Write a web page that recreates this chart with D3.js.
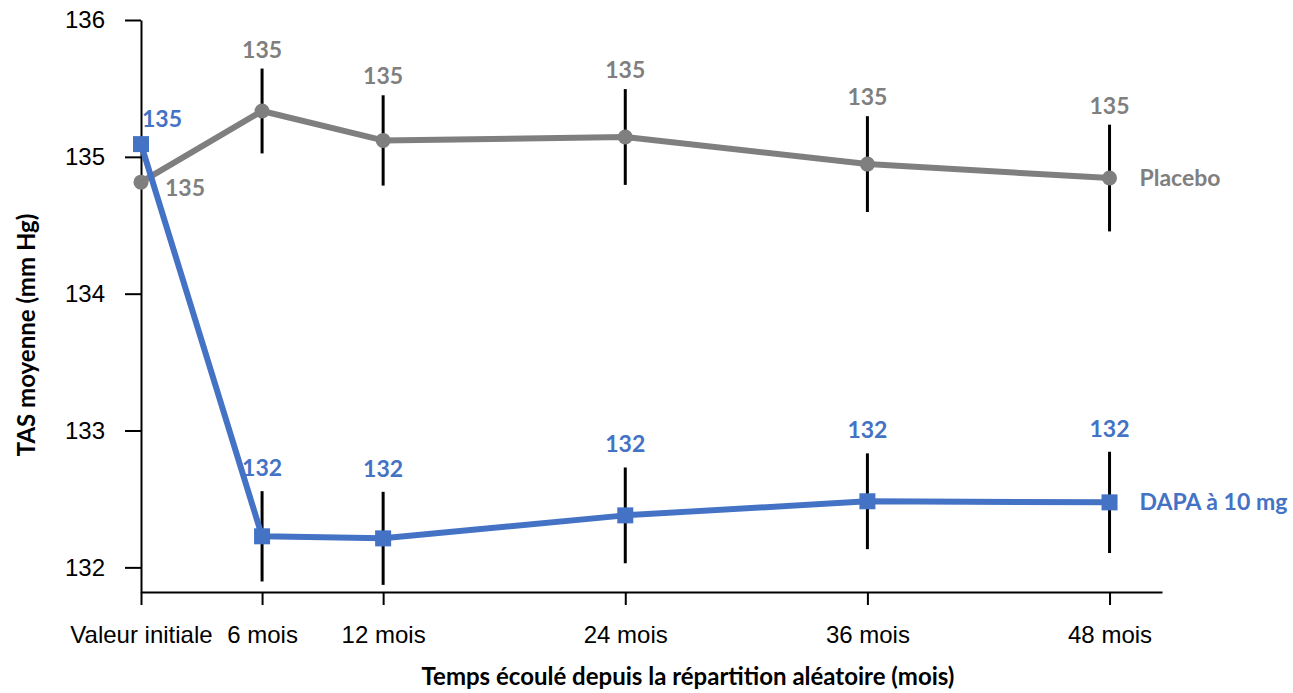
<!DOCTYPE html>
<html>
<head>
<meta charset="utf-8">
<script src="https://cdn.jsdelivr.net/npm/d3@7"></script>
<style>
  body { margin: 0; background: #fff; }
  svg { font-family: Lato, "Open Sans", sans-serif; }
  .axis path, .axis line { stroke: #000; stroke-width: 2; }
  .axis text { font-size: 24px; fill: #000; }
</style>
</head>
<body>
<div id="chart"></div>
<script>
// mois depuis la répartition aléatoire
var months = [0, 6, 12, 24, 36, 48];
var monthLabels = ["Valeur initiale", "6 mois", "12 mois", "24 mois", "36 mois", "48 mois"];
var yTicks = [132, 133, 134, 135, 136];

var placebo = [134.815, 135.335, 135.12, 135.145, 134.947, 134.845];
var placeboErr = [null, 0.31, 0.33, 0.35, 0.35, 0.39];
var placeboLabels = ["135", "135", "135", "135", "135", "135"];

var dapa = [135.093, 132.227, 132.212, 132.38, 132.483, 132.475];
var dapaErr = [null, 0.33, 0.34, 0.35, 0.35, 0.37];
var dapaLabels = ["135", "132", "132", "132", "132", "132"];

var W = 1293, H = 693;
var grey = "#7f7f7f", blue = "#4472c4";

var svg = d3.select("#chart").append("svg")
  .attr("width", W).attr("height", H);

var x = d3.scaleLinear().domain([0, 50.6]).range([141, 1162]);
var y = d3.scaleLinear().domain([131.82, 136]).range([592, 20]);

// axes
svg.append("g").attr("class", "axis")
  .attr("transform", "translate(0," + y(131.82) + ")")
  .call(d3.axisBottom(x).tickValues(months).tickSize(13).tickSizeOuter(0).tickPadding(21)
    .tickFormat(function(d, i){ return monthLabels[i]; }));

svg.append("g").attr("class", "axis")
  .attr("transform", "translate(" + x(0) + ",0)")
  .call(d3.axisLeft(y).tickValues(yTicks).tickSize(16).tickSizeOuter(0).tickPadding(20)
    .tickFormat(d3.format("d")));

// titres
svg.append("text")
  .attr("x", 688).attr("y", 685)
  .attr("text-anchor", "middle")
  .style("font-size", "24px").style("font-weight", "bold")
  .text("Temps écoulé depuis la répartition aléatoire (mois)");

svg.append("text")
  .attr("transform", "translate(35,335) rotate(-90)")
  .attr("text-anchor", "middle")
  .style("font-size", "24px").style("font-weight", "bold")
  .text("TAS moyenne (mm Hg)");

var line = d3.line()
  .x(function(d){ return x(d[0]); })
  .y(function(d){ return y(d[1]); });

function drawSeries(vals, errs, labels, color, shape) {
  var pts = months.map(function(m, i){ return [m, vals[i], errs[i], labels[i]]; });
  var g = svg.append("g");

  // barres d'erreur
  g.selectAll("line.err")
    .data(pts.filter(function(d){ return d[2] != null; }))
    .enter().append("line")
    .attr("x1", function(d){ return x(d[0]); })
    .attr("x2", function(d){ return x(d[0]); })
    .attr("y1", function(d){ return y(d[1] + d[2]); })
    .attr("y2", function(d){ return y(d[1] - d[2]); })
    .attr("stroke", "#000").attr("stroke-width", 3);

  g.append("path").datum(pts)
    .attr("d", line)
    .attr("fill", "none")
    .attr("stroke", color).attr("stroke-width", 6)
    .attr("stroke-linejoin", "round");

  if (shape == "circle") {
    g.selectAll("circle").data(pts).enter().append("circle")
      .attr("cx", function(d){ return x(d[0]); })
      .attr("cy", function(d){ return y(d[1]); })
      .attr("r", 7.5).attr("fill", color);
  } else {
    g.selectAll("rect").data(pts).enter().append("rect")
      .attr("x", function(d){ return x(d[0]) - 8; })
      .attr("y", function(d){ return y(d[1]) - 8; })
      .attr("width", 16).attr("height", 16).attr("fill", color);
  }

  // étiquettes de valeurs
  g.selectAll("text").data(pts).enter().append("text")
    .attr("x", function(d){ return d[2] == null ? x(d[0]) + (shape == "circle" ? 44 : 21) : x(d[0]); })
    .attr("y", function(d){
      if (d[2] == null) return shape == "circle" ? y(d[1]) + 14 : y(d[1]) - 17;
      return y(d[1] + d[2]) - (shape == "circle" ? 11 : 15);
    })
    .attr("text-anchor", "middle")
    .attr("fill", color)
    .style("font-size", "23px").style("font-weight", "bold")
    .text(function(d){ return d[3]; });
  return g;
}

drawSeries(placebo, placeboErr, placeboLabels, grey, "circle");
drawSeries(dapa, dapaErr, dapaLabels, blue, "square");

// noms des séries
svg.append("text")
  .attr("x", x(48) + 30).attr("y", y(placebo[5]) + 8)
  .attr("fill", grey).style("font-size", "23px").style("font-weight", "bold")
  .text("Placebo");
svg.append("text")
  .attr("x", x(48) + 30).attr("y", y(dapa[5]) + 8)
  .attr("fill", blue).style("font-size", "23px").style("font-weight", "bold")
  .text("DAPA à 10 mg");
</script>
</body>
</html>
